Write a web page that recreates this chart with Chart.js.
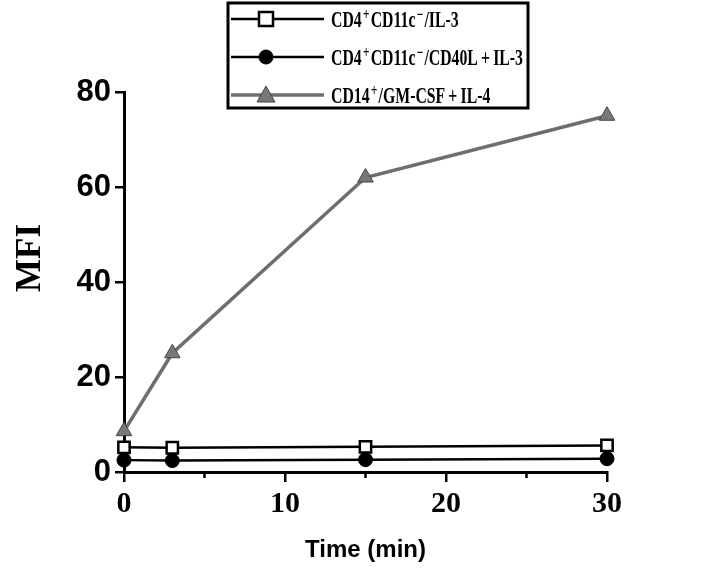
<!DOCTYPE html>
<html>
<head>
<meta charset="utf-8">
<script src="https://cdn.jsdelivr.net/npm/chart.js@4.4.0/dist/chart.umd.min.js"></script>
<style>
    html, body { margin: 0; padding: 0; background: #ffffff; }
    #wrap { width: 720px; height: 569px; }
</style>
</head>
<body>
<div id="wrap"><canvas id="mfiChart"></canvas></div>
<script>
// ===========================
// Data
// ===========================
const times = [0, 3, 15, 30];
const cd4Il3 = [5.2, 5.1, 5.3, 5.6];
const cd4Cd40l = [2.5, 2.4, 2.6, 2.8];
const cd14Gm = [8.6, 25, 62, 75];
const seriesLabels = [
    'CD4\u207ACD11c\u207B/IL-3',
    'CD4\u207ACD11c\u207B/CD40L + IL-3',
    'CD14\u207A/GM-CSF + IL-4'
];
// legend text split in runs so the +/- can be raised
const legendRuns = [
    [['CD4'], ['+', 1], ['CD11c'], ['\u2212', 1], ['/IL-3']],
    [['CD4'], ['+', 1], ['CD11c'], ['\u2212', 1], ['/CD40L\u2009+\u2009IL-3']],
    [['CD14'], ['+', 1], ['/GM-CSF\u2009+\u2009IL-4']]
];
const xTickLabels = { 0: '0', 10: '10', 20: '20', 30: '30' };
const xMinorTicks = [5, 15, 25];
const yTicks = [0, 20, 40, 60, 80];

const toPoints = (vals) => vals.map((v, i) => ({ x: times[i], y: v }));

const SERIF = '"Liberation Serif", "Times New Roman", serif';

function runsWidth(ctx, runs) {
    let w = 0;
    runs.forEach(r => {
        ctx.font = r[1] ? 'bold 17px ' + SERIF : 'bold 24px ' + SERIF;
        w += ctx.measureText(r[0]).width + (r[1] ? 4 : 0);
    });
    return w;
}

function drawRuns(ctx, runs, x, y, sx) {
    ctx.save();
    ctx.translate(x, y);
    ctx.scale(sx, 1);
    let cx = 0;
    runs.forEach(r => {
        ctx.font = r[1] ? 'bold 17px ' + SERIF : 'bold 24px ' + SERIF;
        ctx.fillText(r[0], cx + (r[1] ? 2 : 0), r[1] ? -7 : 0);
        cx += ctx.measureText(r[0]).width + (r[1] ? 4 : 0);
    });
    ctx.restore();
}

// Legend box, y title and short minor ticks drawn by hand
const boxLegend = {
    id: 'boxLegend',
    afterDraw(chart) {
        const ctx = chart.ctx;
        ctx.save();
        ctx.strokeStyle = '#000';
        ctx.lineWidth = 3;
        ctx.strokeRect(228, 3, 300, 105);

        const sx = 192 / runsWidth(ctx, legendRuns[1]);
        const rows = [19, 57, 95];
        chart.data.datasets.forEach((ds, i) => {
            const y = rows[i];
            ctx.strokeStyle = ds.borderColor;
            ctx.lineWidth = ds.borderWidth;
            ctx.beginPath();
            ctx.moveTo(231, y);
            ctx.lineTo(324, y);
            ctx.stroke();
            drawMarker(ctx, ds, 266, y);
            ctx.fillStyle = '#000';
            ctx.textBaseline = 'alphabetic';
            ctx.textAlign = 'left';
            drawRuns(ctx, legendRuns[i], 331, y + 8, sx);
        });

        // minor ticks on the time axis
        const xs = chart.scales.x;
        ctx.strokeStyle = '#000';
        ctx.lineWidth = 2.5;
        xMinorTicks.forEach(v => {
            const px = xs.getPixelForValue(v);
            ctx.beginPath();
            ctx.moveTo(px, xs.top);
            ctx.lineTo(px, xs.top + 6);
            ctx.stroke();
        });

        // y axis title
        ctx.translate(31, 258);
        ctx.rotate(-Math.PI / 2);
        ctx.font = 'bold 35px ' + SERIF;
        ctx.textAlign = 'center';
        ctx.textBaseline = 'middle';
        ctx.fillStyle = '#000';
        ctx.fillText('MFI', 0, 0);
        ctx.restore();
    }
};

function drawMarker(ctx, ds, x, y) {
    ctx.save();
    ctx.fillStyle = ds.pointBackgroundColor;
    ctx.strokeStyle = ds.pointBorderColor;
    ctx.lineWidth = ds.pointBorderWidth;
    ctx.beginPath();
    if (ds.pointStyle === 'rect') {
        ctx.rect(x - 7, y - 7, 14, 14);
    } else if (ds.pointStyle === 'circle') {
        ctx.arc(x, y, 7, 0, Math.PI * 2);
    } else {
        ctx.moveTo(x, y - 9);
        ctx.lineTo(x + 9, y + 7);
        ctx.lineTo(x - 9, y + 7);
        ctx.closePath();
    }
    ctx.fill();
    ctx.stroke();
    ctx.restore();
}

new Chart(document.getElementById('mfiChart'), {
    type: 'line',
    data: {
        datasets: [{
            label: seriesLabels[0],
            data: toPoints(cd4Il3),
            borderColor: '#000',
            borderWidth: 2.5,
            pointStyle: 'rect',
            pointRadius: 8,
            pointBackgroundColor: '#fff',
            pointBorderColor: '#000',
            pointBorderWidth: 2.5,
            order: 2
        }, {
            label: seriesLabels[1],
            data: toPoints(cd4Cd40l),
            borderColor: '#000',
            borderWidth: 2.5,
            pointStyle: 'circle',
            pointRadius: 7,
            pointBackgroundColor: '#000',
            pointBorderColor: '#000',
            pointBorderWidth: 1,
            order: 3
        }, {
            label: seriesLabels[2],
            data: toPoints(cd14Gm),
            borderColor: '#6e6e6e',
            borderWidth: 3.5,
            pointStyle: 'triangle',
            pointRadius: 9,
            pointBackgroundColor: '#777',
            pointBorderColor: '#444',
            pointBorderWidth: 1,
            order: 1
        }]
    },
    options: {
        responsive: true,
        maintainAspectRatio: false,
        animation: false,
        clip: false,
        layout: { padding: { top: 92, right: 113, left: 0, bottom: 0 } },
        plugins: {
            legend: { display: false },
            tooltip: { enabled: false }
        },
        scales: {
            x: {
                type: 'linear',
                min: 0,
                max: 30,
                afterFit: (scale) => { scale.height = 97; },
                afterBuildTicks: (scale) => {
                    scale.ticks = [0, 10, 20, 30].map(v => ({ value: v }));
                },
                border: { color: '#000', width: 3 },
                grid: {
                    drawOnChartArea: false,
                    color: '#000',
                    lineWidth: 2.5,
                    tickLength: 10
                },
                ticks: {
                    color: '#000',
                    padding: 4,
                    maxRotation: 0,
                    autoSkip: false,
                    font: { family: SERIF, size: 30, weight: 'bold' },
                    callback: (v) => xTickLabels[v] !== undefined ? xTickLabels[v] : ''
                },
                title: {
                    display: true,
                    text: 'Time (min)',
                    color: '#000',
                    padding: { top: 0 },
                    font: { family: '"Liberation Sans", Arial, sans-serif', size: 24, weight: 'bold' }
                }
            },
            y: {
                min: 0,
                max: 80,
                afterFit: (scale) => { scale.width = 124; },
                afterBuildTicks: (scale) => {
                    scale.ticks = yTicks.map(v => ({ value: v }));
                },
                border: { color: '#000', width: 3 },
                grid: {
                    drawOnChartArea: false,
                    color: '#000',
                    lineWidth: 2.5,
                    tickLength: 9
                },
                ticks: {
                    color: '#000',
                    padding: 4,
                    font: { family: '"Liberation Sans", Arial, sans-serif', size: 31, weight: 'bold' }
                }
            }
        }
    },
    plugins: [boxLegend]
});
</script>
</body>
</html>
